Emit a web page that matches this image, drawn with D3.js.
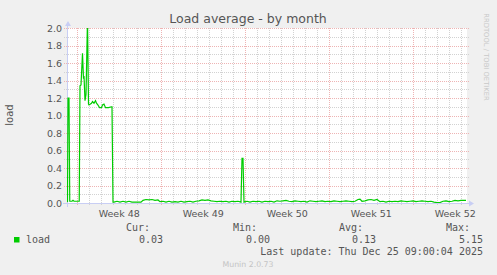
<!DOCTYPE html>
<html>
<head>
<meta charset="utf-8">
<script src="https://cdn.jsdelivr.net/npm/d3@7"></script>
<style>
    body { margin: 0; background: #f0f0f0; }
    svg { display: block; }
</style>
</head>
<body>
<svg id="chart" width="497" height="275"></svg>
<script>
// Graph window: 800 hours ending just after the last update
var graphStart = Date.UTC(2025, 10, 22, 3, 36);
var graphHours = 800;

// Sample positions (hours after graphStart) and load values
var sampleHours = [1, 2, 4, 5.5, 10, 12, 14, 24.5, 26, 28, 31, 33, 34, 36, 38, 41, 43, 44,
    49, 51, 54, 57, 59, 62, 65, 69, 71, 74, 77, 83, 89, 90, 92,
    94, 100, 106, 112, 118, 124, 130, 136, 142, 148, 152, 158, 164, 170, 176, 182, 186, 192,
    198, 204, 210, 216, 222, 228, 234, 240, 246, 252, 258, 264, 270, 276, 282, 288, 294, 300,
    306, 312, 318, 324, 330, 336, 342, 348, 350, 352, 354, 360, 366, 372, 378, 384, 390, 396,
    402, 408, 414, 420, 426, 432, 438, 444, 450, 456, 462, 468, 474, 480, 486, 492, 498, 504,
    510, 516, 522, 528, 534, 540, 546, 552, 558, 564, 570, 576, 582, 586, 590, 596, 602, 608,
    614, 620, 626, 632, 638, 644, 650, 656, 662, 668, 674, 680, 686, 692, 698, 704, 710, 716,
    722, 728, 734, 740, 746, 752, 758, 764, 770, 776, 782, 788, 794, 798];
var loadValues = [0.01, 1.20, 1.20, 0.02, 0.02, 0.03, 0.02, 0.02, 1.34, 1.35, 1.71, 1.42, 1.45, 1.17, 1.24, 2.10, 1.13, 1.12,
    1.14, 1.16, 1.14, 1.17, 1.14, 1.12, 1.09, 1.09, 1.12, 1.13, 1.09, 1.09, 1.10, 1.10, 0.01,
    0.01, 0.02, 0.01, 0.02, 0.01, 0.02, 0.01, 0.01, 0.01, 0.01, 0.03, 0.04, 0.035, 0.04, 0.03, 0.035, 0.015, 0.02,
    0.01, 0.02, 0.01, 0.015, 0.01, 0.02, 0.01, 0.015, 0.02, 0.01, 0.02, 0.025, 0.035, 0.03, 0.035, 0.025, 0.02, 0.015,
    0.02, 0.015, 0.02, 0.01, 0.02, 0.015, 0.02, 0.01, 0.51, 0.51, 0.01, 0.02, 0.01, 0.02, 0.015, 0.02, 0.01, 0.02,
    0.015, 0.02, 0.01, 0.025, 0.02, 0.025, 0.03, 0.02, 0.015, 0.025, 0.02, 0.015, 0.02, 0.01, 0.025, 0.02, 0.015, 0.02,
    0.025, 0.015, 0.02, 0.015, 0.025, 0.02, 0.015, 0.02, 0.025, 0.02, 0.015, 0.02, 0.04, 0.045, 0.02, 0.025, 0.035, 0.04,
    0.03, 0.04, 0.015, 0.02, 0.01, 0.02, 0.015, 0.02, 0.015, 0.025, 0.02, 0.015, 0.02, 0.025, 0.015, 0.02, 0.025, 0.02,
    0.015, 0.02, 0.01, 0.005, 0.005, 0.02, 0.025, 0.015, 0.02, 0.03, 0.025, 0.03, 0.03, 0.03];

var yTicks = [0, 0.2, 0.4, 0.6, 0.8, 1.0, 1.2, 1.4, 1.6, 1.8, 2.0];
var yMinorTicks = [0.1, 0.3, 0.5, 0.7, 0.9, 1.1, 1.3, 1.5, 1.7, 1.9];

var legendHeads = ["Cur:", "Min:", "Avg:", "Max:"];
var legendValues = ["0.03", "0.00", "0.13", "5.15"];
var lastUpdate = "Last update: Thu Dec 25 09:00:04 2025";

var svg = d3.select("#chart");

var plot = {left: 67, right: 467, top: 28, bottom: 203};

var x = d3.scaleUtc()
    .domain([new Date(graphStart), new Date(graphStart + graphHours * 3600e3)])
    .range([plot.left, plot.right]);

var y = d3.scaleLinear()
    .domain([0, 2])
    .range([plot.bottom, plot.top]);

var textColor = "#555";
var sans = "'DejaVu Sans', sans-serif";
var mono = "'DejaVu Sans Mono', monospace";
var minorColor = "#d2d2d2";
var majorColor = "#eeb4b4";

// Background of the canvas
svg.append("rect")
    .attr("x", plot.left)
    .attr("y", plot.top)
    .attr("width", plot.right - plot.left)
    .attr("height", plot.bottom - plot.top)
    .attr("fill", "#fff");

// Title
svg.append("text")
    .attr("x", 248)
    .attr("y", 23)
    .attr("text-anchor", "middle")
    .attr("font-family", sans)
    .attr("font-size", "12.5px")
    .attr("fill", textColor)
    .text("Load average - by month");

var grid = svg.append("g");

// Minor grid: days and 0.1 steps
var days = d3.utcDay.range(x.domain()[0], x.domain()[1]);
var sundays = d3.utcSunday.range(x.domain()[0], x.domain()[1]);

grid.selectAll(".vminor")
    .data(days)
    .enter()
    .append("line")
    .attr("x1", function(d) { return Math.round(x(d)) + 0.5; })
    .attr("x2", function(d) { return Math.round(x(d)) + 0.5; })
    .attr("y1", plot.top)
    .attr("y2", plot.bottom + 3)
    .attr("stroke", minorColor)
    .attr("stroke-dasharray", "1,1");

grid.selectAll(".hminor")
    .data(yMinorTicks)
    .enter()
    .append("line")
    .attr("x1", plot.left - 3)
    .attr("x2", plot.right + 2)
    .attr("y1", function(d) { return Math.round(y(d)) + 0.5; })
    .attr("y2", function(d) { return Math.round(y(d)) + 0.5; })
    .attr("stroke", minorColor)
    .attr("stroke-dasharray", "1,1");

// Major grid: weeks and 0.2 steps
grid.selectAll(".vmajor")
    .data(sundays)
    .enter()
    .append("line")
    .attr("x1", function(d) { return Math.round(x(d)) + 0.5; })
    .attr("x2", function(d) { return Math.round(x(d)) + 0.5; })
    .attr("y1", plot.top)
    .attr("y2", plot.bottom + 3)
    .attr("stroke", majorColor)
    .attr("stroke-dasharray", "1,1");

grid.selectAll(".hmajor")
    .data(yTicks.slice(1))
    .enter()
    .append("line")
    .attr("x1", plot.left - 3)
    .attr("x2", plot.right + 2)
    .attr("y1", function(d) { return Math.round(y(d)) + 0.5; })
    .attr("y2", function(d) { return Math.round(y(d)) + 0.5; })
    .attr("stroke", majorColor)
    .attr("stroke-dasharray", "1,1");

// Y tick labels
svg.append("g").selectAll("text")
    .data(yTicks)
    .enter()
    .append("text")
    .attr("x", 62)
    .attr("y", function(d) { return y(d) + 3.5; })
    .attr("text-anchor", "end")
    .attr("font-family", sans)
    .attr("font-size", "9.5px")
    .attr("fill", textColor)
    .text(function(d) { return d3.format(".1f")(d); });

// Week labels, centred in the week
var weekFmt = d3.utcFormat("Week %V");
svg.append("g").selectAll("text")
    .data(sundays.map(function(d) { return new Date(+d + 3.5 * 864e5); }))
    .enter()
    .append("text")
    .attr("x", function(d) { return x(d); })
    .attr("y", 217)
    .attr("text-anchor", "middle")
    .attr("font-family", sans)
    .attr("font-size", "9.5px")
    .attr("fill", textColor)
    .text(function(d) { return weekFmt(d); });

// Vertical axis label
svg.append("text")
    .attr("transform", "translate(13,115) rotate(-90)")
    .attr("text-anchor", "middle")
    .attr("font-family", sans)
    .attr("font-size", "10px")
    .attr("fill", textColor)
    .text("load");

// Axes with arrows
var axisColor = "#c8cef4";
svg.append("line")
    .attr("x1", plot.left - 4)
    .attr("x2", plot.right + 3)
    .attr("y1", plot.bottom + 0.5)
    .attr("y2", plot.bottom + 0.5)
    .attr("stroke", axisColor);
svg.append("line")
    .attr("x1", plot.left + 0.5)
    .attr("x2", plot.left + 0.5)
    .attr("y1", plot.bottom + 4)
    .attr("y2", plot.top - 3)
    .attr("stroke", axisColor);
svg.append("path")
    .attr("d", "M" + (plot.right + 2) + "," + (plot.bottom - 2.5) + "l5,3l-5,3z")
    .attr("fill", axisColor);
svg.append("path")
    .attr("d", "M" + (plot.left - 2) + "," + (plot.top - 2) + "l3,-5l3,5z")
    .attr("fill", axisColor);

// The load line
svg.append("clipPath")
    .attr("id", "clip")
    .append("rect")
    .attr("x", plot.left)
    .attr("y", plot.top)
    .attr("width", plot.right - plot.left)
    .attr("height", plot.bottom - plot.top);

var line = d3.line()
    .x(function(d, i) { return x(new Date(graphStart + sampleHours[i] * 3600e3)); })
    .y(function(d) { return y(d); });

svg.append("path")
    .datum(loadValues)
    .attr("clip-path", "url(#clip)")
    .attr("d", line)
    .attr("fill", "none")
    .attr("stroke", "#00cc00")
    .attr("stroke-width", 1.2);

// Legend
svg.append("rect")
    .attr("x", 14)
    .attr("y", 237)
    .attr("width", 5.5)
    .attr("height", 5.5)
    .attr("fill", "#00cc00");

svg.append("text")
    .attr("x", 26)
    .attr("y", 243)
    .attr("font-family", mono)
    .attr("font-size", "10px")
    .attr("fill", textColor)
    .text("load");

var colEnds = [150, 257, 363, 470];
svg.append("g").selectAll("text")
    .data(legendHeads)
    .enter()
    .append("text")
    .attr("x", function(d, i) { return colEnds[i]; })
    .attr("y", 231)
    .attr("text-anchor", "end")
    .attr("font-family", mono)
    .attr("font-size", "10px")
    .attr("fill", textColor)
    .text(function(d) { return d; });

svg.append("g").selectAll("text")
    .data(legendValues)
    .enter()
    .append("text")
    .attr("x", function(d, i) { return colEnds[i] + 13; })
    .attr("y", 243)
    .attr("text-anchor", "end")
    .attr("font-family", mono)
    .attr("font-size", "10px")
    .attr("fill", textColor)
    .text(function(d) { return d; });

svg.append("text")
    .attr("x", 483)
    .attr("y", 255)
    .attr("text-anchor", "end")
    .attr("font-family", mono)
    .attr("font-size", "10px")
    .attr("fill", textColor)
    .text(lastUpdate);

svg.append("text")
    .attr("x", 248)
    .attr("y", 267)
    .attr("text-anchor", "middle")
    .attr("font-family", sans)
    .attr("font-size", "7.8px")
    .attr("fill", "#c4c4c4")
    .text("Munin 2.0.73");

svg.append("text")
    .attr("transform", "translate(484,57) rotate(90)")
    .attr("text-anchor", "middle")
    .attr("font-family", sans)
    .attr("font-size", "6.8px")
    .attr("fill", "#c8c8c8")
    .text("RRDTOOL / TOBI OETIKER");
</script>
</body>
</html>
